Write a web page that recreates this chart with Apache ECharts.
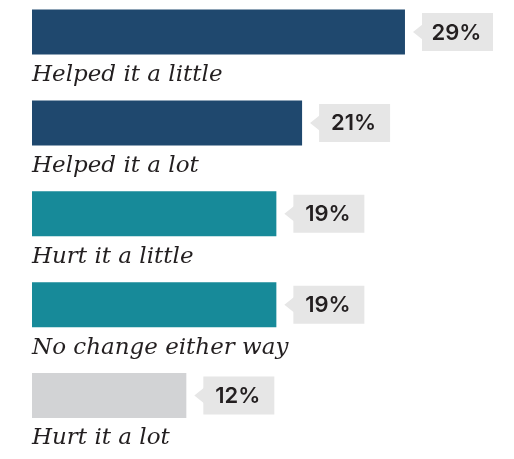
<!DOCTYPE html>
<html>
<head>
<meta charset="utf-8">
<script src="https://cdn.jsdelivr.net/npm/echarts@6/dist/echarts.min.js"></script>
<style>html,body{margin:0;padding:0;background:#fff;}#c{width:514px;height:459px;}</style>
</head>
<body>
<div id="c"></div>
<script>
const categories = ['Helped it a little', 'Helped it a lot', 'Hurt it a little', 'No change either way', 'Hurt it a lot'];
const values = [29, 21, 19, 19, 12];
const barColors = ['#1f486e', '#1f486e', '#178a99', '#178a99', '#d2d3d5'];

const chart = echarts.init(document.getElementById('c'));
chart.setOption({
  animation: false,
  grid: { left: 32, top: 32, width: 463, height: 363.5 },
  xAxis: { type: 'value', min: 0, max: 36, show: false },
  yAxis: { type: 'category', data: categories, inverse: true, show: false, boundaryGap: false },
  series: [
    {
      type: 'bar',
      barWidth: 45,
      data: values.map((v, i) => ({ value: v, itemStyle: { color: barColors[i] } })),
      silent: true
    },
    {
      type: 'custom',
      silent: true,
      data: values.map((v, i) => [v, i]),
      renderItem: function (params, api) {
        const v = api.value(0), idx = api.value(1);
        const end = api.coord([v, idx]);
        const start = api.coord([0, idx]);
        const bx = end[0] + 17, by = end[1] - 19, bw = 71, bh = 38;
        return {
          type: 'group',
          children: [
            { type: 'polygon', shape: { points: [[end[0] + 8, end[1]], [bx + 1, end[1] - 8], [bx + 1, end[1] + 8]] }, style: { fill: '#e6e6e6' } },
            { type: 'rect', shape: { x: bx, y: by, width: bw, height: bh }, style: { fill: '#e6e6e6' } },
            { type: 'text', x: bx + bw / 2 - 1, y: end[1] + 1, style: { text: v + '%', fill: '#231f20', font: '600 22px Inter, sans-serif', align: 'center', verticalAlign: 'middle' } },
            { type: 'text', x: start[0], y: end[1] + 43, style: { text: categories[idx], fill: '#231f20', font: 'italic 23px "DejaVu Serif", serif', align: 'left', verticalAlign: 'middle' } }
          ]
        };
      }
    }
  ]
});
</script>
</body>
</html>
